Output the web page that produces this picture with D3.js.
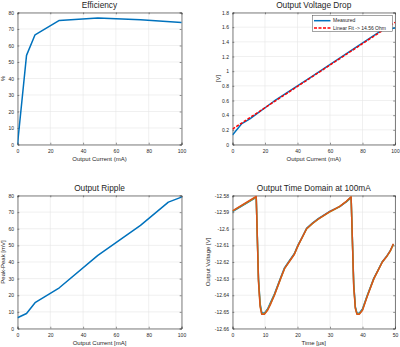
<!DOCTYPE html>
<html><head><meta charset="utf-8">
<script src="https://cdn.jsdelivr.net/npm/d3@7"></script>
<style>body{margin:0;background:#fff}svg{display:block}text{font-family:"Liberation Sans",Arial,sans-serif;fill:#262626}</style>
</head><body><svg id="c" width="400" height="347"></svg>
<script>
// ---- data ----
const effCurrent = [0, 5.5, 10.7, 25.5, 49, 75, 100];
const effValue   = [0, 54, 66.5, 75.2, 76.6, 75.6, 73.9];
const effXTicks = [0, 20, 40, 60, 80, 100];
const effYTicks = [0, 10, 20, 30, 40, 50, 60, 70, 80];

const dropCurrent = [0, 5.5, 10.7, 25.5, 49, 75, 92, 100];
const dropMeasured = [0.13, 0.28, 0.35, 0.59, 0.93, 1.31, 1.56, 1.59];
const fitCurrent = [0, 100];
const fitValue = [0.21, 1.666];
const dropYTicks = [0, 0.2, 0.4, 0.6, 0.8, 1, 1.2, 1.4, 1.6, 1.8];
const dropLegend = ["Measured", "Linear Fit -> 14.56 Ohm"];

const rippleCurrent = [0, 5.5, 10.7, 25.5, 49, 75, 92, 100];
const rippleValue = [6.5, 9, 15.5, 24.5, 44, 62, 76, 79];
const rippleYTicks = [0, 10, 20, 30, 40, 50, 60, 70, 80];

const timeUs = [0, 7.3, 8.0, 8.5, 9.0, 9.8, 10.8, 11.8, 12.9, 14.8, 16.0, 17.4, 19.0, 20.2, 21.5, 22.8, 24.5, 26.5, 29.7, 33.0, 35.0, 36.5, 37.3, 37.8, 38.3, 39.0, 40.0, 41.4, 43.5, 44.8, 46.1, 47.5, 48.5, 49.5];
const traceBlue   = [-12.5897,-12.5811,-12.630,-12.645,-12.6505,-12.6508,-12.6483,-12.6440,-12.6393,-12.6295,-12.6235,-12.6195,-12.6150,-12.6097,-12.6048,-12.5998,-12.5968,-12.5938,-12.5898,-12.5867,-12.5839,-12.5813,-12.633,-12.647,-12.6508,-12.6508,-12.6483,-12.6405,-12.6297,-12.6248,-12.6198,-12.6163,-12.6133,-12.6093];
const traceYellow = [-12.5894,-12.5809,-12.631,-12.646,-12.6510,-12.6512,-12.6487,-12.6446,-12.6398,-12.6300,-12.6240,-12.6199,-12.6154,-12.6100,-12.6051,-12.6001,-12.5971,-12.5941,-12.5901,-12.5866,-12.5837,-12.5810,-12.634,-12.6475,-12.6512,-12.6512,-12.6488,-12.6408,-12.6300,-12.6250,-12.6200,-12.6166,-12.6136,-12.6095];
const traceOrange = [-12.5892,-12.5806,-12.632,-12.647,-12.6515,-12.6515,-12.6490,-12.6450,-12.6400,-12.6300,-12.6240,-12.6200,-12.6155,-12.6100,-12.6050,-12.6000,-12.5970,-12.5940,-12.5900,-12.5865,-12.5835,-12.5808,-12.635,-12.648,-12.6515,-12.6515,-12.6490,-12.6410,-12.6300,-12.6250,-12.6200,-12.6165,-12.6135,-12.6090];
const timeXTicks = [0, 10, 20, 30, 40, 50];
const timeYTicks = [-12.58, -12.59, -12.6, -12.61, -12.62, -12.63, -12.64, -12.65, -12.66];

// ---- drawing ----
const svg = d3.select("#c");
const GRID = "#e6e6e6", AX = "#4a4a4a";

function panel(o) {
  const x = d3.scaleLinear().domain(o.xd).range([o.x0, o.x1]);
  const y = d3.scaleLinear().domain(o.yd).range([o.y1, o.y0]);
  const g = svg.append("g");
  // grid
  g.selectAll(".gx").data(o.xt).enter().append("line")
    .attr("x1", d => x(d)).attr("x2", d => x(d)).attr("y1", o.y0).attr("y2", o.y1)
    .attr("stroke", GRID).attr("stroke-width", 0.6);
  g.selectAll(".gy").data(o.yt).enter().append("line")
    .attr("y1", d => y(d)).attr("y2", d => y(d)).attr("x1", o.x0).attr("x2", o.x1)
    .attr("stroke", GRID).attr("stroke-width", 0.6);
  // axes with inward ticks
  const fmt = o.fmt || (d => String(d));
  const axB = d3.axisBottom(x).tickValues(o.xt).tickSize(-1.8).tickPadding(4.5).tickFormat(fmt);
  const axT = d3.axisTop(x).tickValues(o.xt).tickSize(-1.8).tickFormat("");
  const axL = d3.axisLeft(y).tickValues(o.yt).tickSize(-1.8).tickPadding(3.5).tickFormat(o.yfmt || fmt);
  const axR = d3.axisRight(y).tickValues(o.yt).tickSize(-1.8).tickFormat("");
  [[axB, `translate(0,${o.y1})`], [axT, `translate(0,${o.y0})`], [axL, `translate(${o.x0},0)`], [axR, `translate(${o.x1},0)`]].forEach(([a, t]) => {
    const ag = g.append("g").attr("transform", t).call(a);
    ag.select(".domain").attr("stroke", AX).attr("stroke-width", 0.7);
    ag.selectAll(".tick line").attr("stroke", AX).attr("stroke-width", 0.6);
    ag.selectAll("text").style("font-size", "5px").style("font-family", '"Liberation Sans",Arial,sans-serif').attr("fill", "#262626");
  });
  // title
  svg.append("text").attr("x", (o.x0 + o.x1) / 2).attr("y", o.y0 - 5).attr("text-anchor", "middle")
    .style("font-size", "8.3px").text(o.title);
  svg.append("text").attr("x", (o.x0 + o.x1) / 2).attr("y", o.y1 + 16.5).attr("text-anchor", "middle")
    .style("font-size", "6px").text(o.xl);
  svg.append("text").attr("transform", `translate(${o.ylx},${(o.y0 + o.y1) / 2}) rotate(-90)`).attr("text-anchor", "middle")
    .style("font-size", "6px").text(o.yl);
  const clip = "clip" + Math.round(o.x0) + Math.round(o.y0);
  svg.append("clipPath").attr("id", clip).append("rect").attr("x", o.x0).attr("y", o.y0 - 1).attr("width", o.x1 - o.x0 + 1).attr("height", o.y1 - o.y0 + 1);
  const lg = svg.append("g").attr("clip-path", `url(#${clip})`);
  return { x, y, g: lg };
}

function line(p, xs, ys, color, w, dash) {
  const ln = d3.line().x(i => p.x(xs[i])).y(i => p.y(ys[i]));
  p.g.append("path").attr("d", ln(d3.range(xs.length))).attr("fill", "none")
    .attr("stroke", color).attr("stroke-width", w).attr("stroke-linejoin", "round")
    .attr("stroke-dasharray", dash || null);
}

const BLUE = "#0072BD";

const p1 = panel({ x0: 17.5, x1: 181.5, y0: 12.5, y1: 144.5, xd: [0, 100], yd: [0, 80], xt: effXTicks, yt: effYTicks,
  title: "Efficiency", xl: "Output Current (mA)", yl: "%", ylx: 4.8 });
line(p1, effCurrent, effValue, BLUE, 1.5);

const p2 = panel({ x0: 232.5, x1: 395, y0: 12.5, y1: 144.5, xd: [0, 100], yd: [0, 1.8], xt: effXTicks, yt: dropYTicks,
  title: "Output Voltage Drop", xl: "Output Current (mA)", yl: "[V]", ylx: 219.5 });
line(p2, dropCurrent, dropMeasured, BLUE, 1.5);
line(p2, fitCurrent, fitValue, "#FF0000", 1.5, "3,1.5");
// legend
const lgx = 312.5, lgy = 15.5;
const leg = svg.append("g");
leg.append("rect").attr("x", lgx).attr("y", lgy).attr("width", 80).attr("height", 16)
  .attr("fill", "#fff").attr("stroke", AX).attr("stroke-width", 0.5);
[[BLUE, null], ["#FF0000", "3,1.5"]].forEach(([c, d], i) => {
  const yy = lgy + 5.2 + i * 7.2;
  leg.append("line").attr("x1", lgx + 1.5).attr("x2", lgx + 18).attr("y1", yy).attr("y2", yy)
    .attr("stroke", c).attr("stroke-width", 1.5).attr("stroke-dasharray", d);
  leg.append("text").attr("x", lgx + 20.5).attr("y", yy + 1.7).style("font-size", "5px").text(dropLegend[i]);
});

const p3 = panel({ x0: 17.5, x1: 181.5, y0: 195.5, y1: 328.5, xd: [0, 100], yd: [0, 80], xt: effXTicks, yt: rippleYTicks,
  title: "Output Ripple", xl: "Output Current [mA]", yl: "Peak-Peak [mV]", ylx: 4.8 });
line(p3, rippleCurrent, rippleValue, BLUE, 1.5);

const p4 = panel({ x0: 232.5, x1: 395, y0: 195.5, y1: 328.5, xd: [0, 50], yd: [-12.66, -12.58], xt: timeXTicks, yt: timeYTicks,
  title: "Output Time Domain at 100mA", xl: "Time [µs]", yl: "Output Voltage [V]", ylx: 210,
  yfmt: d => String(+d.toFixed(2)).replace("-", "-") });
line(p4, timeUs, traceBlue, BLUE, 1.5);
line(p4, timeUs, traceYellow, "#9CB030", 1.5);
line(p4, timeUs, traceOrange, "#D95319", 1.5);
</script></body></html>
